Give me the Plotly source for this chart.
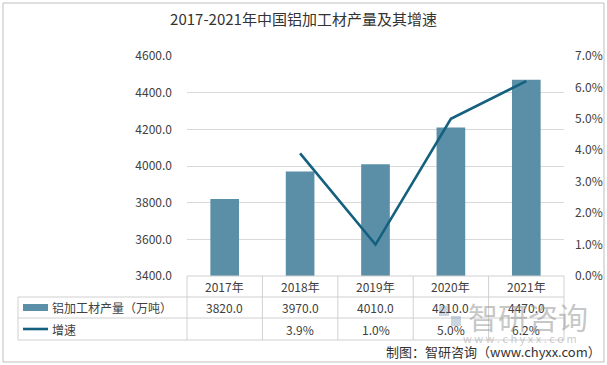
import plotly.graph_objects as go

years = ["2017年", "2018年", "2019年", "2020年", "2021年"]
output = [3820.0, 3970.0, 4010.0, 4210.0, 4470.0]
growth_years = ["2018年", "2019年", "2020年", "2021年"]
growth = [0.039, 0.010, 0.050, 0.062]
bar_name = "铝加工材产量（万吨）"
line_name = "增速"
title = "2017-2021年中国铝加工材产量及其增速"
footer = "制图：智研咨询（www.chyxx.com）"

W, H = 607, 365
BAR_COLOR = "#5b8fa8"
LINE_COLOR = "#14607f"
FONT = "Noto Sans CJK SC"
TXT = "#404040"

x0_px, x1_px = 187, 564
y_top_px, y_bot_px = 56, 276

def px(x):
    return x / W

def py(y):
    return 1 - y / H

fig = go.Figure()
fig.add_trace(go.Bar(x=years, y=output, marker_color=BAR_COLOR, width=0.38,
                     name=bar_name, yaxis="y", showlegend=False))
fig.add_trace(go.Scatter(x=growth_years, y=growth, mode="lines",
                         line=dict(color=LINE_COLOR, width=2.6),
                         name=line_name, yaxis="y2", showlegend=False))

fig.update_layout(
    template="none",
    width=W, height=H,
    margin=dict(l=0, r=0, t=0, b=0, autoexpand=False),
    paper_bgcolor="white", plot_bgcolor="white",
    font=dict(family=FONT, size=12, color=TXT),
    title=dict(text=title, x=0.5, xanchor="center", y=py(20), yanchor="middle",
               font=dict(family=FONT, size=15, color="#333333")),
    xaxis=dict(domain=[px(x0_px), px(x1_px)], type="category", automargin=False,
               range=[-0.5, 4.5], showticklabels=False, showgrid=False,
               zeroline=False, showline=False, ticks=""),
    yaxis=dict(domain=[py(y_bot_px), py(y_top_px)], range=[3400, 4600], automargin=False,
               dtick=200, tickformat=".1f", showgrid=True, gridcolor="#d9d9d9",
               gridwidth=1, zeroline=False, showline=False, ticks="", ticklabelstandoff=14,
               tickfont=dict(family=FONT, size=12, color=TXT)),
    yaxis2=dict(overlaying="y", side="right", range=[0, 0.07], dtick=0.01, automargin=False,
                tickformat=".1%", showgrid=False, zeroline=False, showline=False, ticks="",
                ticklabelstandoff=10,
                tickfont=dict(family=FONT, size=12, color=TXT)),
    bargap=0.6,
)

shapes = []
annotations = []
line_style = dict(color="#d0d0d0", width=1)

# table rows
t_top, r1, r2, t_bot = 276, 297, 318, 340
t_left = 18
col_edges = [x0_px + i * (x1_px - x0_px) / 5 for i in range(6)]
for yv, xl in [(t_top, x0_px), (r1, t_left), (r2, t_left), (t_bot, t_left)]:
    shapes.append(dict(type="line", xref="paper", yref="paper",
                       x0=px(xl), x1=px(x1_px), y0=py(yv), y1=py(yv), line=line_style))
for xe in col_edges:
    shapes.append(dict(type="line", xref="paper", yref="paper",
                       x0=px(xe), x1=px(xe), y0=py(t_top), y1=py(t_bot), line=line_style))
shapes.append(dict(type="line", xref="paper", yref="paper",
                   x0=px(t_left), x1=px(t_left), y0=py(r1), y1=py(t_bot), line=line_style))

# legend keys
shapes.append(dict(type="rect", xref="paper", yref="paper",
                   x0=px(23), x1=px(48), y0=py(311), y1=py(304),
                   fillcolor=BAR_COLOR, line=dict(width=0)))
shapes.append(dict(type="line", xref="paper", yref="paper",
                   x0=px(23), x1=px(48), y0=py(329), y1=py(329),
                   line=dict(color=LINE_COLOR, width=2.6)))
annotations.append(dict(text=bar_name, xref="paper", yref="paper", x=px(50), y=py(307.5),
                        xanchor="left", yanchor="middle", showarrow=False,
                        font=dict(family=FONT, size=12, color=TXT)))
annotations.append(dict(text=line_name, xref="paper", yref="paper", x=px(50), y=py(329),
                        xanchor="left", yanchor="middle", showarrow=False,
                        font=dict(family=FONT, size=12, color=TXT)))

for yr, v in zip(years, output):
    annotations.append(dict(text=yr, xref="x", yref="paper", x=yr, y=py(286.5),
                            showarrow=False, yanchor="middle",
                            font=dict(family=FONT, size=12, color=TXT)))
    annotations.append(dict(text=f"{v:.1f}", xref="x", yref="paper", x=yr, y=py(307.5),
                            showarrow=False, yanchor="middle",
                            font=dict(family=FONT, size=12, color=TXT)))
for yr, g in zip(growth_years, growth):
    annotations.append(dict(text=f"{g*100:.1f}%", xref="x", yref="paper", x=yr, y=py(329),
                            showarrow=False, yanchor="middle",
                            font=dict(family=FONT, size=12, color=TXT)))

# watermark
shapes.append(dict(type="rect", xref="paper", yref="paper",
                   x0=px(439), x1=px(449), y0=py(316), y1=py(306),
                   fillcolor="rgba(120,150,180,0.4)", line=dict(width=0)))
shapes.append(dict(type="rect", xref="paper", yref="paper",
                   x0=px(451), x1=px(461), y0=py(326), y1=py(316),
                   fillcolor="rgba(120,150,180,0.4)", line=dict(width=0)))
annotations.append(dict(text="智研咨询", xref="paper", yref="paper", x=px(528), y=py(316),
                        showarrow=False, xanchor="center", yanchor="middle",
                        font=dict(family=FONT, size=30, color="rgba(150,150,150,0.55)")))
annotations.append(dict(text="w w w . c h y x x . c o m", xref="paper", yref="paper",
                        x=px(520), y=py(338), showarrow=False, xanchor="center",
                        yanchor="middle",
                        font=dict(family=FONT, size=11, color="rgba(150,150,150,0.5)")))

annotations.append(dict(text=footer, xref="paper", yref="paper", x=px(603), y=py(351),
                        showarrow=False, xanchor="right", yanchor="middle",
                        font=dict(family=FONT, size=13, color="#333333")))

# outer border
shapes.append(dict(type="rect", xref="paper", yref="paper",
                   x0=px(3), x1=px(604), y0=py(362), y1=py(3),
                   line=dict(color="#bfbfbf", width=1), fillcolor="rgba(0,0,0,0)"))

fig.update_layout(shapes=shapes, annotations=annotations)
fig.write_html("out.html", config={"displayModeBar": False},
               post_script="document.body.style.margin='0';document.body.style.overflow='hidden';")
